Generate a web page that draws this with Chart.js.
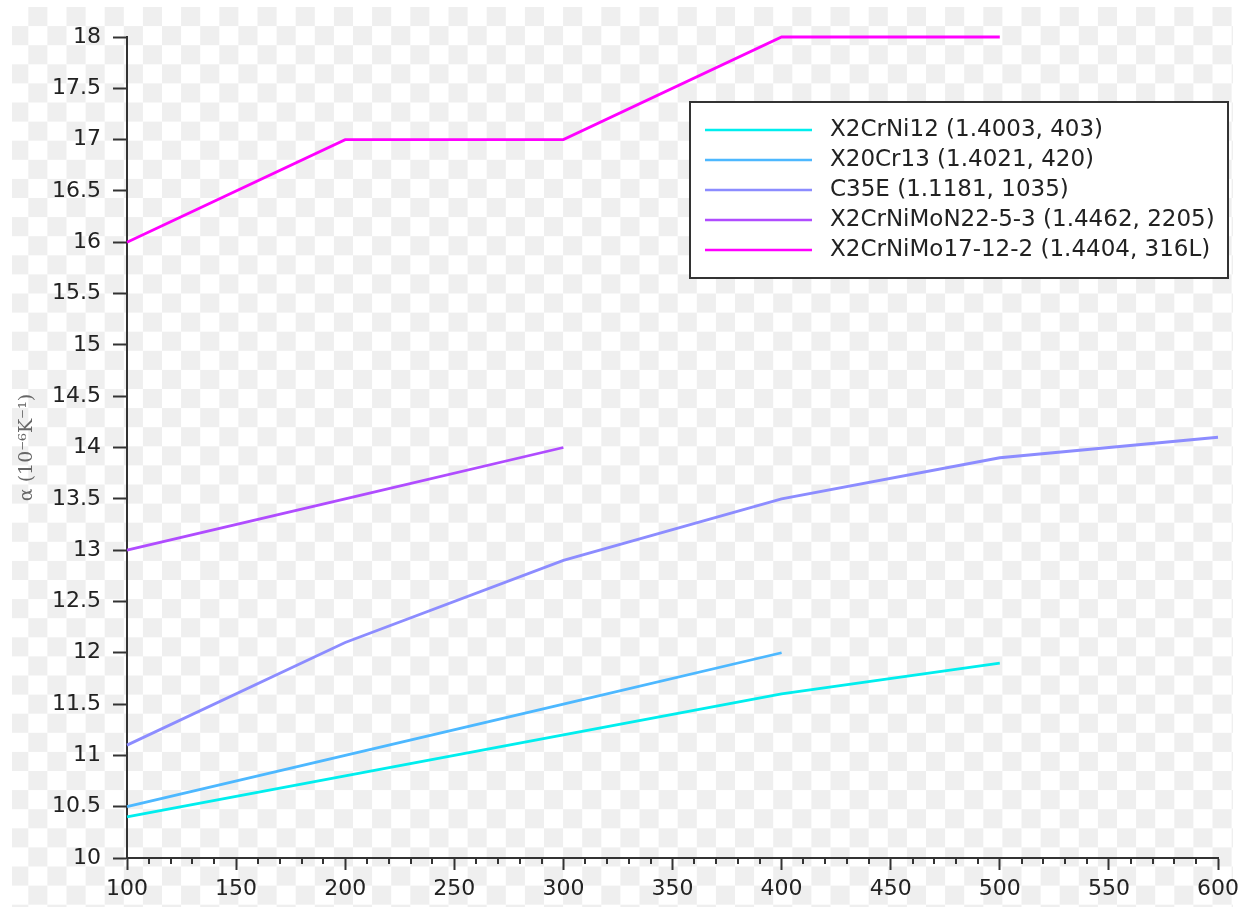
<!DOCTYPE html>
<html>
<head>
<meta charset="utf-8">
<script src="https://cdn.jsdelivr.net/npm/chart.js@4.4.1/dist/chart.umd.min.js"></script>
<style>
  html, body { margin: 0; padding: 0; background: #fff; }
  #wrap { width: 1249px; height: 909px; position: relative; }
</style>
</head>
<body>
<div id="wrap"><canvas id="alpha"></canvas></div>
<script>
// temperatures (°C) and expansion coefficients (10^-6 / K)
let temps = [100, 200, 300, 400, 500, 600]
let x2crni12 = [10.4, 10.8, 11.2, 11.6, 11.9]
let x20cr13 = [10.5, 11.0, 11.5, 12.0]
let c35e = [11.1, 12.1, 12.9, 13.5, 13.9, 14.1]
let x2crnimon = [13.0, 13.5, 14.0]
let x2crnimo = [16, 17, 17, 18, 18]

let seriesLabels = [
    'X2CrNi12 (1.4003, 403)',
    'X20Cr13 (1.4021, 420)',
    'C35E (1.1181, 1035)',
    'X2CrNiMoN22-5-3 (1.4462, 2205)',
    'X2CrNiMo17-12-2 (1.4404, 316L)'
]
let seriesColors = ['#00eeee', '#4db8ff', '#8c8cff', '#b04cff', '#ff00ff']
let seriesValues = [x2crni12, x20cr13, c35e, x2crnimon, x2crnimo]

let toPoints = vals => vals.map((v, i) => ({ x: temps[i], y: v }))

// checkerboard behind everything
let checker = {
    id: 'checker',
    beforeDraw(chart) {
        let c = chart.ctx
        c.save()
        c.fillStyle = '#ffffff'
        c.fillRect(0, 0, chart.width, chart.height)
        let sz = 19.1
        c.fillStyle = '#efefef'
        for (let row = 0; 7 + row * sz < 907; row++) {
            for (let col = 0; 9.2 + col * sz < 1233; col++) {
                if ((row + col) % 2 === 1) {
                    let x0 = Math.max(12, 9.2 + col * sz)
                    let x1 = Math.min(1233, 9.2 + (col + 1) * sz)
                    let y0 = 7 + row * sz
                    let y1 = Math.min(907, 7 + (row + 1) * sz)
                    c.fillRect(x0, y0, x1 - x0, y1 - y0)
                }
            }
        }
        c.restore()
    }
}

// minor ticks on the x axis every 10
let minorTicks = {
    id: 'minorTicks',
    afterDraw(chart) {
        let xs = chart.scales.x
        let c = chart.ctx
        c.save()
        c.strokeStyle = '#333'
        c.lineWidth = 2
        for (let v = xs.min; v <= xs.max; v += 10) {
            if (v % 50 === 0) continue
            let px = Math.round(xs.getPixelForValue(v))
            c.beginPath()
            c.moveTo(px, xs.top)
            c.lineTo(px, xs.top + 6)
            c.stroke()
        }
        c.restore()
    }
}

// boxed legend inside the plot area
let boxLegend = {
    id: 'boxLegend',
    afterDraw(chart) {
        let c = chart.ctx
        let bx = 690, by = 102, bw = 538, bh = 176
        c.save()
        c.fillStyle = '#ffffff'
        c.fillRect(bx, by, bw, bh)
        c.strokeStyle = '#333'
        c.lineWidth = 2
        c.strokeRect(bx, by, bw, bh)
        c.font = '23px "DejaVu Sans"'
        c.textBaseline = 'middle'
        chart.data.datasets.forEach((ds, i) => {
            let y = by + 28 + i * 30
            c.strokeStyle = ds.borderColor
            c.lineWidth = 2.5
            c.beginPath()
            c.moveTo(705, y)
            c.lineTo(812, y)
            c.stroke()
            c.fillStyle = '#222'
            c.fillText(ds.label, 830, y)
        })
        c.restore()
    }
}

let ctx = document.getElementById('alpha').getContext('2d')

let alphaChart = new Chart(ctx, {
    type: 'line',
    data: {
        datasets: seriesValues.map((vals, i) => ({
            label: seriesLabels[i],
            data: toPoints(vals),
            borderColor: seriesColors[i],
            backgroundColor: seriesColors[i],
            borderWidth: 2.8,
            pointRadius: 0,
            tension: 0,
            fill: false,
            clip: false
        }))
    },
    options: {
        responsive: true,
        maintainAspectRatio: false,
        animation: false,
        layout: { padding: { left: 0, top: 37, right: 31, bottom: 0 } },
        plugins: {
            legend: { display: false },
            tooltip: { enabled: false }
        },
        scales: {
            x: {
                type: 'linear',
                min: 100,
                max: 600,
                afterFit(scale) { scale.height = 51 },
                border: { color: '#333', width: 2 },
                grid: { drawOnChartArea: false, tickLength: 12, tickColor: '#333', tickWidth: 2 },
                ticks: {
                    stepSize: 50,
                    color: '#222',
                    padding: 6,
                    maxRotation: 0,
                    font: { family: 'DejaVu Sans', size: 22 }
                }
            },
            y: {
                min: 10,
                max: 18,
                afterFit(scale) { scale.width = 127 },
                border: { color: '#333', width: 2 },
                grid: { drawOnChartArea: false, tickLength: 14, tickColor: '#333', tickWidth: 2 },
                ticks: {
                    stepSize: 0.5,
                    color: '#222',
                    padding: 12,
                    font: { family: 'DejaVu Sans', size: 22 },
                    callback: v => String(Math.round(v * 10) / 10)
                },
                title: {
                    display: true,
                    text: 'α (10⁻⁶K⁻¹)',
                    color: '#666',
                    padding: { top: 16 },
                    font: { family: 'DejaVu Serif', size: 19 }
                }
            }
        }
    },
    plugins: [checker, minorTicks, boxLegend]
})
</script>
</body>
</html>
